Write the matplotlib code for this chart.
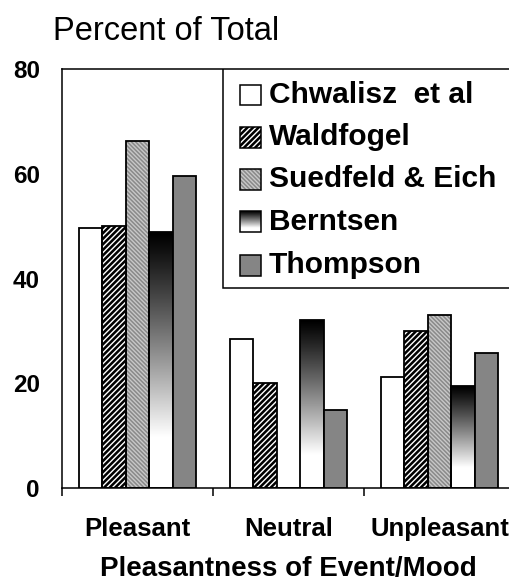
import numpy as np
import matplotlib
matplotlib.use("Agg")
import matplotlib.pyplot as plt
from matplotlib.patches import Rectangle

plt.rcParams["font.family"] = ["Liberation Sans", "DejaVu Sans"]
plt.rcParams["hatch.linewidth"] = 1.0

categories = ["Pleasant", "Neutral", "Unpleasant"]
series = ["Chwalisz  et al", "Waldfogel", "Suedfeld & Eich", "Berntsen", "Thompson"]
chwalisz = [49.6, 28.5, 21.1]
waldfogel = [50.0, 20.0, 30.0]
suedfeld = [66.2, 0.0, 33.0]
berntsen = [48.8, 32.0, 19.4]
thompson = [59.6, 14.8, 25.8]
values = [chwalisz, waldfogel, suedfeld, berntsen, thompson]
yticks = [0, 20, 40, 60, 80]

# face, hatch colour, hatch
styles = [
    ("white", None, None),
    ("black", "white", "//////"),
    ("#8a8a8a", "#c8c8c8", "\\\\\\\\\\\\\\\\"),
    ("gradient", None, None),
    ("#858585", None, None),
]


def gradient_column(n=256):
    t = np.linspace(0, 1, n)
    g = np.clip((1 - t) / 0.8, 0, 1) ** 1.1
    return g.reshape(-1, 1)


fig = plt.figure(figsize=(5.09, 5.81), dpi=100)
ax = fig.add_axes([62 / 509, 93 / 581, 453 / 509, 419 / 581])

width = 0.155
x = np.arange(len(categories))
for i, (vals, (face, hcol, hatch)) in enumerate(zip(values, styles)):
    pos = x + (i - 2) * width
    if face == "gradient":
        for p, v in zip(pos, vals):
            ax.imshow(gradient_column(), cmap="gray", vmin=0, vmax=1, origin="lower",
                      extent=[p - width / 2, p + width / 2, 0, v], aspect="auto",
                      interpolation="bilinear", zorder=1)
        ax.bar(pos, vals, width, facecolor="none", edgecolor="black", linewidth=1.3, zorder=3)
    elif hatch:
        ax.bar(pos, vals, width, facecolor=face, edgecolor=hcol, hatch=hatch, linewidth=0, zorder=2)
        ax.bar(pos, vals, width, facecolor="none", edgecolor="black", linewidth=1.3, zorder=3)
    else:
        ax.bar(pos, vals, width, facecolor=face, edgecolor="black", linewidth=1.3, zorder=3)

ax.set_xlim(-0.5, 2.5)
ax.set_ylim(0, 80)
ax.set_yticks(yticks)
ax.set_yticklabels([str(v) for v in yticks], fontsize=17.5, fontweight="bold")
ax.tick_params(axis="y", length=0, pad=16)
ax.set_xticks([-0.5, 0.5, 1.5, 2.5])
ax.set_xticklabels([])
ax.tick_params(axis="x", which="major", direction="out", length=6, width=1.1)
ax.set_xticks(x, minor=True)
ax.set_xticklabels(categories, minor=True, fontsize=18.5, fontweight="bold")
ax.tick_params(axis="x", which="minor", length=0, pad=21)
ax.set_xlabel("Pleasantness of Event/Mood", fontsize=20, fontweight="bold", labelpad=11)
for s in ax.spines.values():
    s.set_linewidth(1.1)

# legend box drawn in axes coordinates
ax.add_patch(Rectangle((0.355, 0.477), 0.645, 0.523, transform=ax.transAxes,
                       facecolor="white", edgecolor="black", linewidth=1.1, zorder=5))
row_y = [0.938, 0.837, 0.737, 0.635, 0.532]
ph = 0.050
pw = 0.046
for name, (face, hcol, hatch), yy in zip(series, styles, row_y):
    x0, y0 = 0.393, yy - ph / 2
    if face == "gradient":
        ax.imshow(gradient_column(), cmap="gray", vmin=0, vmax=1, origin="lower",
                  extent=[x0, x0 + pw, y0, y0 + ph], transform=ax.transAxes,
                  aspect="auto", interpolation="bilinear", zorder=6)
    elif hatch:
        ax.add_patch(Rectangle((x0, y0), pw, ph, transform=ax.transAxes, facecolor=face,
                               edgecolor=hcol, hatch=hatch, linewidth=0, zorder=6))
    else:
        ax.add_patch(Rectangle((x0, y0), pw, ph, transform=ax.transAxes, facecolor=face,
                               edgecolor="none", zorder=6))
    ax.add_patch(Rectangle((x0, y0), pw, ph, transform=ax.transAxes, facecolor="none",
                           edgecolor="black", linewidth=1.1, zorder=7))
    ax.text(0.457, yy, name, transform=ax.transAxes, fontsize=21.5, fontweight="bold",
            va="center", ha="left", zorder=8)

ax.set_xlim(-0.5, 2.5)
ax.set_ylim(0, 80)

fig.text(53 / 509, 1 - 40 / 581, "Percent of Total", fontsize=23.5, va="baseline", ha="left")

fig.savefig("out.png", dpi=100)
